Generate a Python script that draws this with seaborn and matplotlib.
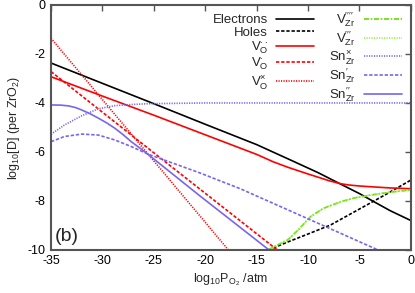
import matplotlib
matplotlib.use("Agg")
import matplotlib.pyplot as plt
import seaborn as sns
import numpy as np

# ---- data (log10 P_O2 vs log10 [D]) ----
elec_x = [-35, -30, -25, -20, -15, -11.7, -9, -6.8, -5, -3.6, -2, 0]
elec_y = [-2.37, -3.2, -4.03, -4.87, -5.7, -6.33, -6.85, -7.32, -7.7, -8.03, -8.4, -8.8]

hole_x = [-13.85, -12, -10, -7.8, -5, -2.5, 0]
hole_y = [-10.0, -9.68, -9.35, -8.98, -8.33, -7.75, -7.15]

vo2_x = [-35, -30, -25, -20, -15, -13.4, -12, -10, -8.8, -8, -6.8, -6, -5, -3.9, -2, 0]
vo2_y = [-2.93, -3.72, -4.5, -5.3, -6.1, -6.4, -6.62, -6.9, -7.06, -7.17, -7.3, -7.35, -7.39, -7.42, -7.47, -7.5]

vo1_x = [-35, -25.35, -13.0]
vo1_y = [-2.72, -5.92, -10.0]

vox_x = [-35, -17.75]
vox_y = [-1.36, -10.0]

vzr4_x = [-13.85, -13, -12, -11, -9.75, -8.5, -6.8, -5.5, -3.9, -2, 0]
vzr4_y = [-10.0, -9.8, -9.6, -9.2, -8.64, -8.3, -8.03, -7.88, -7.76, -7.64, -7.55]

vzr3_x = [-13.85, -13, -12, -11, -9.75, -8.5, -6.8, -5.5, -3.9, -2, 0]
vzr3_y = [-10.0, -9.8, -9.6, -9.2, -8.64, -8.3, -8.03, -7.88, -7.76, -7.64, -7.55]

snx_x = [-35, -33.7, -32, -30.4, -28.8, -27, -25.5, -20, -10, 0]
snx_y = [-5.28, -4.9, -4.52, -4.24, -4.11, -4.06, -4.03, -4.0, -4.0, -4.0]

sn1_x = [-35, -33.7, -32, -30.4, -28.8, -27.2, -25.5, -20.5, -16.6, -10, -3.2]
sn1_y = [-5.58, -5.37, -5.27, -5.31, -5.51, -5.78, -6.1, -6.86, -7.5, -8.73, -10.0]

sn2_x = [-35, -34, -33.3, -32.6, -32, -31.2, -30.4, -29.6, -28.8, -28, -27.2, -26.3, -25.5, -20.5, -13.8]
sn2_y = [-4.08, -4.09, -4.12, -4.19, -4.29, -4.44, -4.62, -4.81, -5.03, -5.29, -5.58, -5.86, -6.12, -7.8, -10.0]

xticks = [-35, -30, -25, -20, -15, -10, -5, 0]
yticks = [0, -2, -4, -6, -8, -10]

sns.set_theme(style="white")
plt.rcParams['font.family'] = ['Liberation Sans', 'DejaVu Sans']
plt.rcParams['mathtext.fontset'] = 'custom'
plt.rcParams['mathtext.rm'] = 'Liberation Sans'
plt.rcParams['mathtext.it'] = 'Liberation Sans:italic'
plt.rcParams['mathtext.sf'] = 'Liberation Sans'

fig = plt.figure(figsize=(4.15, 2.93), dpi=100)
ax = fig.add_axes([0.123, 0.147, 0.867, 0.836])

red = '#ff0000'
blue = '#7766ee'
green = '#66dd00'

dash = (0, (2.0, 1.1))
dot = (0, (0.7, 0.8))

series = [
    (elec_x, elec_y, 'Electrons', 'black', '-'),
    (hole_x, hole_y, 'Holes', 'black', dash),
    (vo2_x, vo2_y, r'V$_\mathrm{O}^{\bullet\bullet}$', red, '-'),
    (vo1_x, vo1_y, r'V$_\mathrm{O}^{\bullet}$', red, dash),
    (vox_x, vox_y, r'V$_\mathrm{O}^{\times}$', red, dot),
    (vzr4_x, vzr4_y, r"V$_\mathrm{Zr}^{\prime\prime\prime\prime}$", green, (0, (3, 1, 1, 1))),
    (vzr3_x, vzr3_y, r"V$_\mathrm{Zr}^{\prime\prime\prime}$", '#99ee44', dot),
    (snx_x, snx_y, r'Sn$_\mathrm{Zr}^{\times}$', blue, dot),
    (sn1_x, sn1_y, r'Sn$_\mathrm{Zr}^{\prime}$', blue, dash),
    (sn2_x, sn2_y, r'Sn$_\mathrm{Zr}^{\prime\prime}$', blue, '-'),
]

for xs, ys, lab, col, ls in series:
    sns.lineplot(x=xs, y=ys, ax=ax, color=col, linestyle=ls, linewidth=1.2,
                 label=lab, sort=False, estimator=None)

ax.set_xlim(-35, 0)
ax.set_ylim(-10, 0)
ax.set_xticks(xticks)
ax.set_yticks(yticks)
ax.set_xticklabels([str(t) for t in xticks], fontsize=9)
ax.set_yticklabels([str(t) for t in yticks], fontsize=9)
ax.tick_params(direction='in', length=4, width=1, top=True, right=True,
               colors='#555555', labelcolor='black', pad=4)
for s in ax.spines.values():
    s.set_color('#555555')
    s.set_linewidth(1.5)

ax.set_xlabel(r'log$_{10}$P$_{\mathrm{O}_2}$ /atm', fontsize=9, labelpad=3)
ax.set_ylabel(r'log$_{10}$[D] (per ZrO$_2$)', fontsize=9, labelpad=4)

ax.text(0.01, 0.02, '(b)', transform=ax.transAxes, fontsize=14,
        ha='left', va='bottom')

leg = ax.legend(ncol=2, loc='upper right', frameon=False, markerfirst=False,
                fontsize=9.5, handlelength=2.9, handletextpad=0.6,
                columnspacing=1.1, labelspacing=0.02,
                bbox_to_anchor=(0.99, 1.0), borderaxespad=0.0)

fig.savefig('out.png', dpi=100)
